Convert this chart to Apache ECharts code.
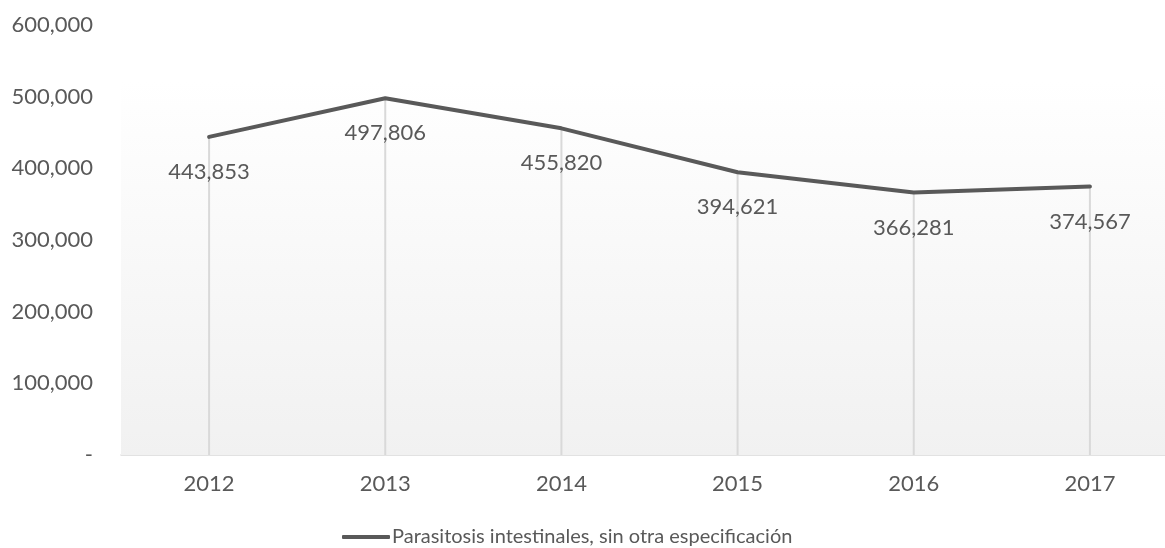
<!DOCTYPE html>
<html>
<head>
<meta charset="utf-8">
<script src="https://cdn.jsdelivr.net/npm/echarts@6/dist/echarts.min.js"></script>
<style>
html,body{margin:0;padding:0;background:#fff;}
#chart{width:1165px;height:548px;}
</style>
</head>
<body>
<div id="chart"></div>
<script>
const categories = ['2012', '2013', '2014', '2015', '2016', '2017'];
const seriesName = 'Parasitosis intestinales, sin otra especificación';
const values = [443853, 497806, 455820, 394621, 366281, 374567];
const yTicks = [0, 100000, 200000, 300000, 400000, 500000, 600000];

const FONT = 'Lato, "Open Sans", sans-serif';
const TEXT = '#595959';
const BG_TOP_VALUE = 523000; // where the plot-area shading begins

function fmt(v) {
  if (v === 0) return '-';
  return v.toLocaleString('en-US');
}

const chart = echarts.init(document.getElementById('chart'));
chart.setOption({
  animation: false,
  backgroundColor: '#ffffff',
  textStyle: { fontFamily: FONT },
  grid: { left: 121, right: -13, top: 25, bottom: 93, containLabel: false, outerBoundsMode: 'none' },
  xAxis: {
    type: 'category',
    data: categories,
    boundaryGap: true,
    axisLine: { show: true, lineStyle: { color: '#d9d9d9', width: 1.5 } },
    axisTick: { show: false },
    axisLabel: { color: TEXT, fontSize: 22, fontFamily: FONT, margin: 18 },
    splitLine: { show: false }
  },
  yAxis: {
    type: 'value',
    min: yTicks[0],
    max: yTicks[yTicks.length - 1],
    interval: yTicks[1] - yTicks[0],
    axisLine: { show: false },
    axisTick: { show: false },
    splitLine: { show: false },
    axisLabel: { color: TEXT, fontSize: 22, fontFamily: FONT, margin: 28, formatter: fmt }
  },
  legend: {
    show: true,
    left: 342,
    top: 526,
    padding: 0,
    itemWidth: 48,
    itemHeight: 4,
    itemGap: 10,
    data: [{ name: seriesName, icon: 'roundRect' }],
    itemStyle: { color: '#595959' },
    textStyle: { color: TEXT, fontSize: 20, lineHeight: 22, fontFamily: FONT, padding: [0, 0, 0, -3] }
  },
  series: [
    {
      name: 'bg',
      type: 'line',
      data: [],
      z: 0,
      silent: true,
      markArea: {
        silent: true,
        itemStyle: {
          color: {
            type: 'linear', x: 0, y: 0, x2: 0, y2: 1,
            colorStops: [{ offset: 0, color: '#ffffff' }, { offset: 1, color: '#f1f1f1' }]
          }
        },
        data: [[{ yAxis: BG_TOP_VALUE }, { yAxis: 0 }]]
      }
    },
    {
      name: 'drop',
      type: 'bar',
      data: values,
      barWidth: 2,
      z: 1,
      silent: true,
      itemStyle: { color: '#d9d9d9' }
    },
    {
      name: seriesName,
      type: 'line',
      data: values,
      z: 3,
      symbol: 'circle',
      symbolSize: 0.1,
      showSymbol: true,
      lineStyle: { color: '#595959', width: 4, cap: 'round', join: 'round' },
      itemStyle: { color: '#595959' },
      label: {
        show: true,
        position: 'bottom',
        distance: 24,
        color: TEXT,
        fontSize: 22,
        fontFamily: FONT,
        formatter: p => fmt(p.value)
      }
    }
  ]
});
</script>
</body>
</html>
